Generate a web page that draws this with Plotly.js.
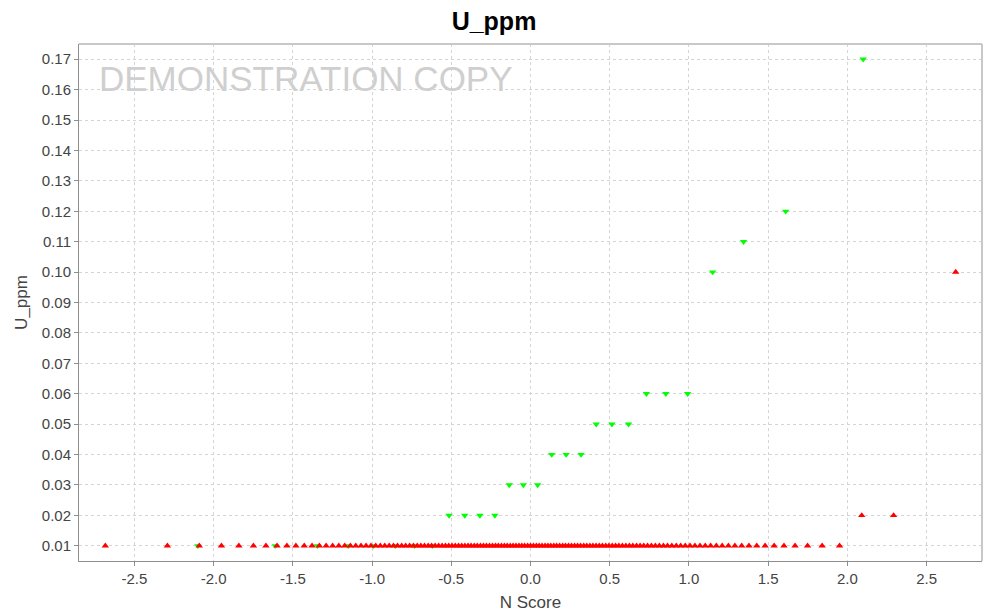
<!DOCTYPE html>
<html>
<head>
<meta charset="utf-8">
<script src="https://cdn.plot.ly/plotly-3.0.1.min.js"></script>
<style>
  html, body { margin: 0; padding: 0; background: #ffffff; }
  #chart { width: 988px; height: 615px; }
</style>
</head>
<body>
<div id="chart"></div>
<script>
// Normal scores (N Score) and U_ppm values, data set 1 (red, up triangles)
const set1Scores = [
  -2.684, -2.292, -2.091, -1.951, -1.841, -1.749, -1.670, -1.600, -1.538, -1.481,
  -1.428, -1.379, -1.333, -1.290, -1.249, -1.210, -1.173, -1.137, -1.103, -1.070,
  -1.038, -1.007, -0.977, -0.948, -0.920, -0.892, -0.865, -0.839, -0.813, -0.788,
  -0.763, -0.739, -0.715, -0.692, -0.669, -0.646, -0.624, -0.602, -0.580, -0.558,
  -0.537, -0.516, -0.495, -0.475, -0.454, -0.434, -0.414, -0.394, -0.375, -0.355,
  -0.336, -0.316, -0.297, -0.278, -0.259, -0.240, -0.221, -0.203, -0.184, -0.165,
  -0.147, -0.128, -0.110, -0.092, -0.073, -0.055, -0.037, -0.018,
  0.000,
  0.018, 0.037, 0.055, 0.073, 0.092, 0.110, 0.128, 0.147,
  0.165, 0.184, 0.203, 0.221, 0.240, 0.259, 0.278, 0.297, 0.316, 0.336,
  0.355, 0.375, 0.394, 0.414, 0.434, 0.454, 0.475, 0.495, 0.516, 0.537,
  0.558, 0.580, 0.602, 0.624, 0.646, 0.669, 0.692, 0.715, 0.739, 0.763,
  0.788, 0.813, 0.839, 0.865, 0.892, 0.920, 0.948, 0.977, 1.007, 1.038,
  1.070, 1.103, 1.137, 1.173, 1.210, 1.249, 1.290, 1.333, 1.379, 1.428,
  1.481, 1.538, 1.600, 1.670, 1.749, 1.841, 1.951, 2.091, 2.292, 2.684
];
const set1Values = [
  0.01, 0.01, 0.01, 0.01, 0.01, 0.01, 0.01, 0.01, 0.01, 0.01, 0.01, 0.01, 0.01, 0.01, 0.01, 0.01, 0.01, 0.01, 0.01, 0.01,
  0.01, 0.01, 0.01, 0.01, 0.01, 0.01, 0.01, 0.01, 0.01, 0.01, 0.01, 0.01, 0.01, 0.01, 0.01, 0.01, 0.01, 0.01, 0.01, 0.01,
  0.01, 0.01, 0.01, 0.01, 0.01, 0.01, 0.01, 0.01, 0.01, 0.01, 0.01, 0.01, 0.01, 0.01, 0.01, 0.01, 0.01, 0.01, 0.01, 0.01,
  0.01, 0.01, 0.01, 0.01, 0.01, 0.01, 0.01, 0.01, 0.01, 0.01, 0.01, 0.01, 0.01, 0.01, 0.01, 0.01, 0.01, 0.01, 0.01, 0.01,
  0.01, 0.01, 0.01, 0.01, 0.01, 0.01, 0.01, 0.01, 0.01, 0.01, 0.01, 0.01, 0.01, 0.01, 0.01, 0.01, 0.01, 0.01, 0.01, 0.01,
  0.01, 0.01, 0.01, 0.01, 0.01, 0.01, 0.01, 0.01, 0.01, 0.01, 0.01, 0.01, 0.01, 0.01, 0.01, 0.01, 0.01, 0.01, 0.01, 0.01,
  0.01, 0.01, 0.01, 0.01, 0.01, 0.01, 0.01, 0.01, 0.01, 0.01, 0.01, 0.01, 0.01, 0.01,
  0.02, 0.02, 0.10
];

// Data set 2 (green, down triangles)
const set2Scores = [
  -2.100, -1.611, -1.345, -1.150, -0.992, -0.854, -0.732, -0.619, -0.514, -0.415,
  -0.319, -0.225, -0.134, -0.045, 0.045, 0.134, 0.225, 0.319, 0.415, 0.514,
  0.619, 0.732, 0.854, 0.992, 1.150, 1.345, 1.611, 2.100
];
const set2Values = [
  0.01, 0.01, 0.01, 0.01, 0.01, 0.01, 0.01, 0.01,
  0.02, 0.02, 0.02, 0.02,
  0.03, 0.03, 0.03,
  0.04, 0.04, 0.04,
  0.05, 0.05, 0.05,
  0.06, 0.06, 0.06,
  0.10, 0.11, 0.12, 0.17
];

// Axis tick labels
const xTickVals = [-2.5, -2.0, -1.5, -1.0, -0.5, 0.0, 0.5, 1.0, 1.5, 2.0, 2.5];
const xTickText = ['-2.5', '-2.0', '-1.5', '-1.0', '-0.5', '0.0', '0.5', '1.0', '1.5', '2.0', '2.5'];
const yTickVals = [0.01, 0.02, 0.03, 0.04, 0.05, 0.06, 0.07, 0.08, 0.09, 0.10, 0.11, 0.12, 0.13, 0.14, 0.15, 0.16, 0.17];
const yTickText = ['0.01', '0.02', '0.03', '0.04', '0.05', '0.06', '0.07', '0.08', '0.09', '0.10', '0.11', '0.12', '0.13', '0.14', '0.15', '0.16', '0.17'];

const FONT = '"Liberation Sans", Arial, Helvetica, sans-serif';

const traces = [
  {
    type: 'scatter', mode: 'markers', name: 'set 2',
    x: set2Scores, y: set2Values,
    marker: { symbol: 'triangle-down', size: 6.5, color: '#00ff00', line: { width: 0 } },
    hoverinfo: 'x+y'
  },
  {
    type: 'scatter', mode: 'markers', name: 'set 1',
    x: set1Scores, y: set1Values,
    marker: { symbol: 'triangle-up', size: 6.5, color: '#ff0000', line: { width: 0 } },
    hoverinfo: 'x+y'
  }
];

const axisCommon = {
  showgrid: true,
  gridcolor: '#d4d4d4',
  gridwidth: 1,
  griddash: '3px,3px',
  zeroline: false,
  showline: true,
  linecolor: '#8e8e8e',
  linewidth: 1,
  ticks: 'outside',
  ticklen: 4,
  tickwidth: 1,
  tickcolor: '#8e8e8e',
  tickfont: { family: FONT, size: 15, color: '#444444' }
};

const layout = {
  width: 988,
  height: 615,
  paper_bgcolor: '#ffffff',
  plot_bgcolor: '#ffffff',
  margin: { l: 79, r: 6, t: 44, b: 54 },
  showlegend: false,
  title: {
    text: 'U_ppm',
    font: { family: FONT, size: 25, color: '#000000', weight: 'bold' },
    x: 0.5, xref: 'container', xanchor: 'center',
    y: 0.965, yref: 'container', yanchor: 'middle'
  },
  xaxis: Object.assign({}, axisCommon, {
    range: [-2.85, 2.85],
    tickmode: 'array', tickvals: xTickVals, ticktext: xTickText,
    title: { text: 'N Score', font: { family: FONT, size: 17, color: '#444444' }, standoff: 10 }
  }),
  yaxis: Object.assign({}, axisCommon, {
    range: [0.005, 0.175],
    tickmode: 'array', tickvals: yTickVals, ticktext: yTickText,
    title: { text: 'U_ppm', font: { family: FONT, size: 17, color: '#444444' }, standoff: 9 }
  }),
  shapes: [
    // light outline on the top and right of the plot area
    { type: 'line', xref: 'paper', yref: 'paper', x0: 0, x1: 1, y0: 1, y1: 1,
      line: { color: '#c8c8c8', width: 2 } },
    { type: 'line', xref: 'paper', yref: 'paper', x0: 1, x1: 1, y0: 0, y1: 1,
      line: { color: '#c8c8c8', width: 2 } }
  ],
  annotations: [
    {
      text: 'DEMONSTRATION COPY',
      xref: 'paper', yref: 'paper',
      x: 0.02, y: 0.934, xanchor: 'left', yanchor: 'middle',
      showarrow: false,
      font: { family: FONT, size: 35, color: '#cfcfcf' }
    }
  ]
};

Plotly.newPlot('chart', traces, layout, { displayModeBar: false, staticPlot: true });
</script>
</body>
</html>
